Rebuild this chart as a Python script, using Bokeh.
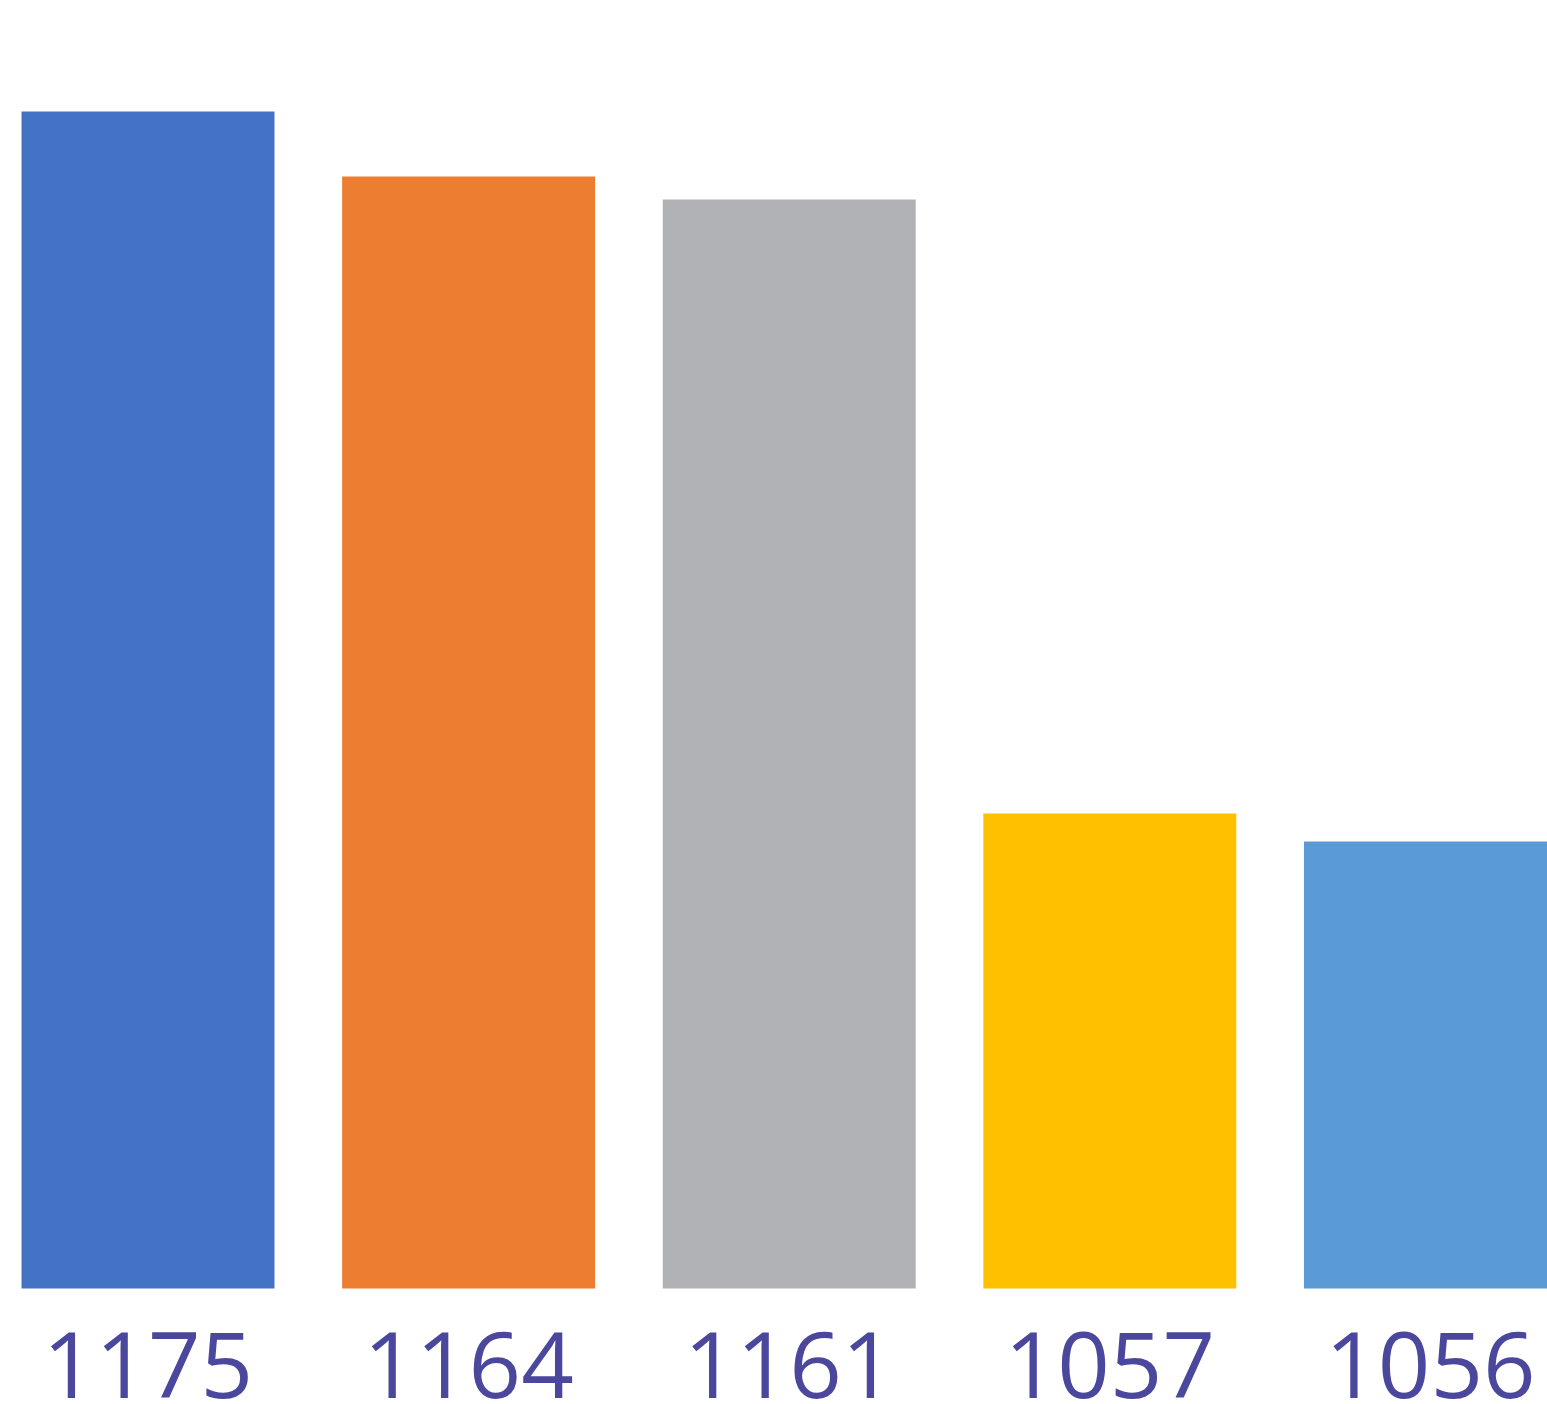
from bokeh.plotting import figure
from bokeh.models import ColumnDataSource, Range1d
from bokeh.core.properties import value
from bokeh.embed import file_html
from bokeh.resources import INLINE

# data
categories = ["1175", "1164", "1161", "1057", "1056"]
values = [91.38, 86.34, 84.55, 36.88, 34.70]
colors = ["#4472C4", "#ED7D31", "#B1B2B5", "#FFC000", "#5B9BD5"]

xs = list(range(len(categories)))
src = ColumnDataSource(dict(x=xs, top=values, label=categories, color=colors,
                            zero=[0] * len(categories)))

p = figure(width=1547, height=1404, output_backend="svg", toolbar_location=None,
           x_range=Range1d(-0.4601, 4.3652), y_range=Range1d(-9.006, 100),
           x_axis_type=None, y_axis_type=None,
           min_border_left=0, min_border_right=0, min_border_top=0, min_border_bottom=0)
p.outline_line_color = None
p.xgrid.visible = False
p.ygrid.visible = False
p.background_fill_color = "white"
p.border_fill_color = "white"

p.vbar(x="x", top="top", bottom=0, width=0.789, color="color", line_color=None, source=src)

p.text(x="x", y="zero", text="label", source=src, text_align="center",
       text_baseline="alphabetic", y_offset=76, text_font=value("Open Sans"),
       text_font_size="92px", text_color="#4A479D")

open("out.html", "w").write(file_html(p, INLINE))
